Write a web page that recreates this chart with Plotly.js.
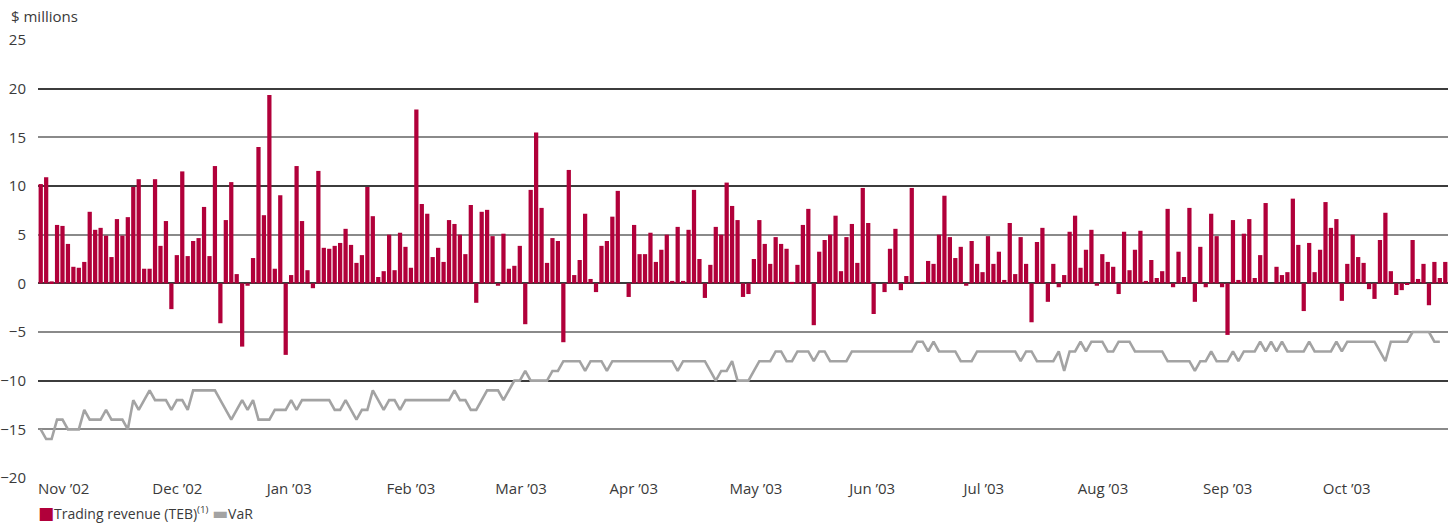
<!DOCTYPE html>
<html><head><meta charset="utf-8">
<script src="https://cdn.plot.ly/plotly-3.0.1.min.js"></script>
<style>html,body{margin:0;padding:0;background:#fff}#chart{width:1454px;height:524px}</style>
</head><body><div id="chart"></div>
<script>
// Daily trading revenue (TEB), $ millions, Nov 2002 - Oct 2003
const revenue = [
 10.2,10.9,0.2,6.0,5.9,4.05,1.7,1.6,2.2,7.35,5.5,5.7,4.9,2.7,6.6,4.9,6.8,9.9,10.7,1.5,
 1.5,10.7,3.85,6.4,-2.65,2.9,11.5,2.8,4.35,4.65,7.85,2.8,12.05,-4.1,6.5,10.4,0.95,-6.5,-0.25,2.6,
 14.0,7.0,19.35,1.5,9.05,-7.35,0.85,12.05,
 6.4,1.35,-0.5,11.55,3.65,3.55,3.85,4.15,5.6,3.95,2.1,2.9,9.9,6.9,0.65,1.25,5.0,1.35,5.2,3.75,1.6,
 17.85,8.15,7.15,2.7,3.65,2.2,6.5,6.1,5.0,3.0,8.05,-2.0,7.35,7.55,4.85,-0.25,5.1,1.5,1.8,3.85,-4.2,9.6,15.5,
 7.75,2.1,4.65,4.35,-6.05,11.65,0.85,2.4,7.15,0.45,-0.9,3.85,4.35,6.85,9.5,0,-1.4,6.0,3.0,3.0,5.2,2.2,
 3.45,5.0,0.25,5.8,0.25,5.5,9.6,2.5,-1.5,1.9,5.8,5.0,10.35,7.95,6.5,-1.4,-1.1,2.5,6.5,4.05,2.0,4.75,4.05,
 3.55,0.15,1.9,6.0,7.65,-4.3,3.25,4.45,5.0,6.95,1.25,4.75,6.1,2.1,9.8,6.2,-3.15,0,-0.9,3.55,5.6,-0.7,0.75,
 9.8,0,0.15,2.3,2.0,5.0,9.0,4.75,2.6,3.75,-0.25,4.35,2.0,1.15,4.85,2.0,3.25,0.35,6.2,0.95,4.75,2.0,-4.0,
 4.25,5.7,-1.9,2.0,-0.4,0.85,5.3,6.95,1.6,3.45,5.5,-0.25,3.0,2.2,1.7,-1.1,5.3,1.35,3.45,5.4,0.25,2.4,0.55,
 1.25,7.65,-0.4,3.25,0.65,7.75,-1.9,3.75,-0.4,7.15,4.85,-0.4,-5.3,6.5,0.35,5.1,6.6,0.55,2.9,8.25,0,1.7,0.85,
 1.15,8.7,3.95,-2.85,4.15,1.15,3.45,8.35,5.7,6.6,-1.8,2.0,5.0,2.7,2.1,-0.6,-1.6,4.45,7.25,1.25,
 -1.2,-0.7,-0.15,4.45,0.45,2.0,-2.25,2.2,0.55,2.2
];
// Daily VaR, $ millions
const varValues = [
 -15,-16,-16,-14,-14,-15,-15,-15,-13,-14,-14,-14,-13,-14,-14,-14,-15,-12,-13,-12,
 -11,-12,-12,-12,-13,-12,-12,-13,-11,-11,-11,-11,-11,-12,-13,-14,-13,-12,-13,-12,
 -14,-14,-14,-13,-13,-13,-12,-13,
 -12,-12,-12,-12,-12,-12,-13,-13,-12,-13,-14,-13,-13,-11,-12,-13,-12,-12,-13,-12,-12,
 -12,-12,-12,-12,-12,-12,-12,-11,-12,-12,-13,-13,-12,-11,-11,-11,-12,-11,-10,-10,-9,-10,-10,
 -10,-10,-9,-9,-8,-8,-8,-8,-9,-8,-8,-8,-9,-8,-8,-8,-8,-8,-8,-8,-8,-8,
 -8,-8,-8,-9,-8,-8,-8,-8,-8,-9,-10,-9,-9,-8,-10,-10,-10,-9,-8,-8,-8,-7,-7,
 -8,-8,-7,-7,-7,-8,-7,-7,-8,-8,-8,-8,-7,-7,-7,-7,-7,-7,-7,-7,-7,-7,-7,
 -7,-6,-6,-7,-6,-7,-7,-7,-7,-8,-8,-8,-7,-7,-7,-7,-7,-7,-7,-7,-8,-7,-7,
 -8,-8,-8,-8,-7,-9,-7,-7,-6,-7,-6,-6,-6,-7,-7,-6,-6,-6,-7,-7,-7,-7,-7,
 -7,-8,-8,-8,-8,-8,-9,-8,-8,-7,-8,-8,-8,-7,-8,-7,-7,-7,-6,-7,-6,-7,-6,
 -7,-7,-7,-7,-6,-7,-7,-7,-7,-6,-7,-6,-6,-6,-6,-6,-6,-7,-8,-6,
 -6,-6,-6,-5,-5,-5,-5,-6,-6
];
const monthLabels = ["Nov \u201902","Dec \u201902","Jan \u201903","Feb \u201903","Mar \u201903","Apr \u201903",
                     "May \u201903","Jun \u201903","Jul \u201903","Aug \u201903","Sep \u201903","Oct \u201903"];
const monthStartIndex = [0,21,42,64,84,105,127,149,170,191,214,236];
const yTickValues = [-20,-15,-10,-5,0,5,10,15,20,25];
const darkGridValues = [-20,-10,0,10,20];
const lightGridValues = [-15,-5,5,15,25];

const dayIndex = revenue.map((_, i) => i);
const FONT = '"Open Sans", "DejaVu Sans", sans-serif';
const TXT = '#3a3a3a';
const RED = '#b1003a';
const GREY = '#a3a3a3';

const traces = [
  {type:'scatter', mode:'lines', x:[], y:[], yaxis:'y2', showlegend:false, hoverinfo:'skip'},
  {type:'bar', name:'Trading revenue (TEB)', x:dayIndex, y:revenue,
   marker:{color:RED, line:{width:0}}, yaxis:'y', showlegend:false},
  {type:'scatter', mode:'lines', name:'VaR', x:dayIndex, y:varValues,
   line:{color:GREY, width:2.6}, yaxis:'y3', showlegend:false}
];

const yRange = [-20, 25];
const layout = {
  width:1454, height:524,
  margin:{l:38, r:6, t:40, b:46, pad:0, autoexpand:false},
  paper_bgcolor:'#fff', plot_bgcolor:'#fff',
  font:{family:FONT, size:15, color:TXT},
  bargap:0.22,
  showlegend:false,
  xaxis:{range:[-0.5, revenue.length-0.5], showgrid:false, zeroline:false, showline:false,
         tickvals:monthStartIndex.map(i => i-0.5), ticktext:monthLabels,
         ticklabelposition:'outside right', ticks:'', tickfont:{size:15, color:TXT}},
  yaxis:{range:yRange, tickvals:yTickValues, showgrid:false, zeroline:false, showline:false,
         ticks:'', ticklabelstandoff:11, tickfont:{size:15, color:TXT}},
  yaxis2:{range:yRange, overlaying:'y', side:'left', showticklabels:false, ticks:'',
          zeroline:false, showline:false, tickvals:lightGridValues,
          showgrid:true, gridcolor:'#8a8a8a', gridwidth:2},
  yaxis3:{range:yRange, overlaying:'y', side:'left', showticklabels:false, ticks:'',
          zeroline:false, showline:false, tickvals:darkGridValues,
          showgrid:true, gridcolor:'#3c3c3c', gridwidth:2},
  annotations:[
    {text:'$ millions', xref:'paper', yref:'paper', x:0, y:1, xanchor:'left',
     yanchor:'middle', xshift:-29, yshift:24, showarrow:false,
     font:{family:FONT, size:15, color:TXT}},
    {text:'<span style="color:'+RED+';font-size:17px">\u25A0</span>Trading revenue (TEB)<sup>(1)</sup>',
     xref:'paper', yref:'paper', x:0, y:0, xanchor:'left', yanchor:'middle',
     xshift:-2, yshift:-34, showarrow:false, font:{family:FONT, size:14, color:TXT}},
    {text:'<span style="color:'+GREY+';font-size:17px">\u25AC</span>VaR',
     xref:'paper', yref:'paper', x:0, y:0, xanchor:'left', yanchor:'middle',
     xshift:172, yshift:-34, showarrow:false, font:{family:FONT, size:14, color:TXT}}
  ]
};
Plotly.newPlot('chart', traces, layout, {displayModeBar:false});
</script></body></html>
